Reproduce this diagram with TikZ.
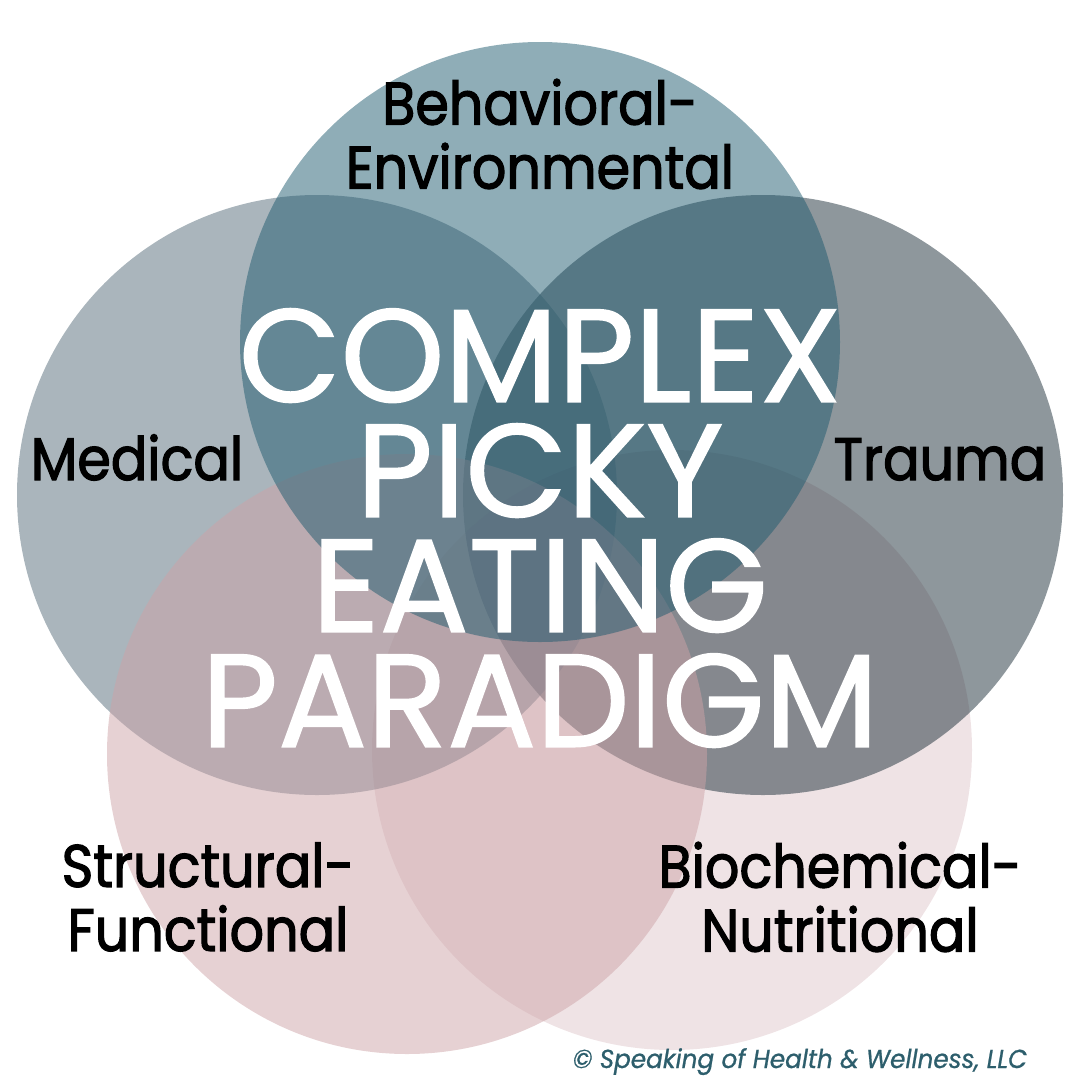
\documentclass[tikz,border=0pt]{standalone}
\usepackage{fontspec}
\setmainfont{Poppins}
\newfontfamily\areafont[FakeStretch=0.9, FakeBold=2]{Poppins}
\newfontfamily\titlefont[FakeBold=1.2]{Poppins}
\newfontfamily\copyfont[FakeStretch=0.95, FakeBold=0.8]{Poppins}
\usetikzlibrary{positioning}
\definecolor{behavc}{HTML}{1F5B6F}
\definecolor{medc}{HTML}{556B79}
\definecolor{traumac}{HTML}{1D2F39}
\definecolor{structc}{HTML}{CDA3A7}
\definecolor{bioc}{HTML}{DFC7CB}
\definecolor{copyc}{HTML}{2D5E6C}

\begin{document}
\begin{tikzpicture}[
                    x=1pt, y=-1pt,
                    blob/.style={fill opacity=0.5},
                    area/.style={font=\areafont\fontsize{60}{64}\selectfont, align=center, inner sep=0pt},
                    title/.style={font=\titlefont\fontsize{132}{115}\selectfont, text=white, align=center, inner sep=0pt}
                ]
                    \useasboundingbox (0,0) rectangle (1080,1080);
                    % circles, back to front
                    \fill[blob, bioc] (672,750) circle (300);
                    \fill[blob, traumac] (763,495) circle (300);
                    \fill[blob, medc] (317,495) circle (300);
                    \fill[blob, structc] (407,754) circle (300);
                    \fill[blob, behavc] (540,342) circle (300);
                    % labels
                    \node[area] (behav) at (540,134) {Behavioral-\\Environmental};
                    \node[area, anchor=base] (med) at (137,480) {Medical};
                    \node[area, anchor=base] (trauma) at (940,480) {Trauma};
                    \node[area] (struct) at (208,897) {Structural-\\Functional};
                    \node[area] (bio) at (840,897) {Biochemical-\\Nutritional};
                    \node[title] (paradigm) at (540,528) {COMPLEX\\PICKY\\EATING\\PARADIGM};
                    \node[font=\copyfont\itshape\fontsize{26}{26}\selectfont, text=copyc, anchor=base, inner sep=0pt] (copy) at (800,1068) {© Speaking of Health \& Wellness, LLC};
                \end{tikzpicture}
\end{document}
